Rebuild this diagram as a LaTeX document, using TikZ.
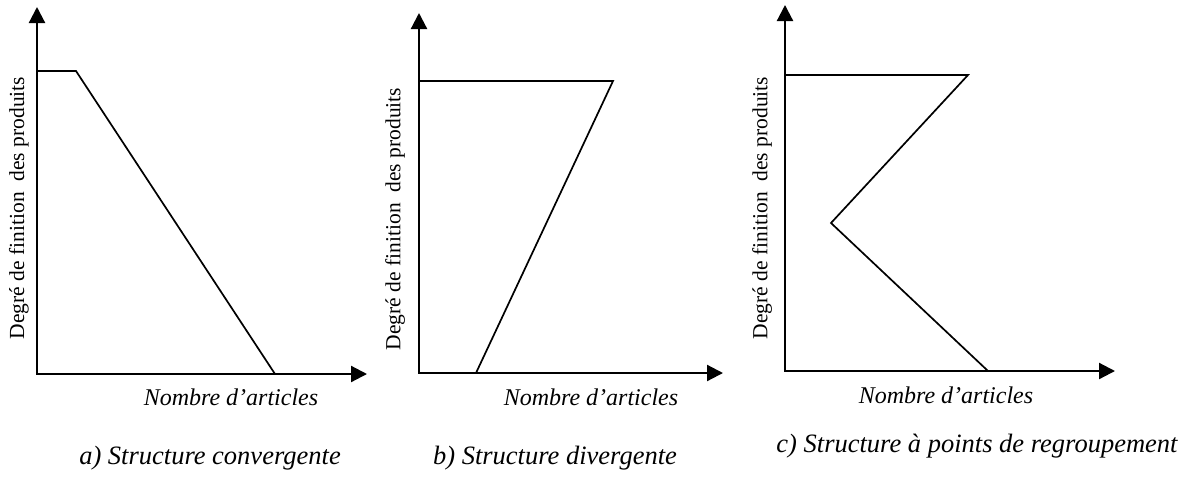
\documentclass[tikz,border=0pt]{standalone}
\usepackage{fontspec}
\setmainfont{Liberation Serif}
\usetikzlibrary{arrows.meta}

\begin{document}
\begin{tikzpicture}[x=1pt, y=-1pt,
		axes/.style={line width=2.2pt, {Triangle[length=16pt, width=16pt]}-{Triangle[length=16pt, width=16pt]}},
		courbe/.style={line width=1.7pt},
		etiq/.style={font=\fontsize{24}{28}\selectfont\itshape},
		titre/.style={font=\fontsize{26.5}{30}\selectfont\itshape},
		degre/.style={rotate=90, font=\fontsize{21.5}{25}\selectfont}]
		\useasboundingbox (0,0) rectangle (1193,493);

		% a) structure convergente
		\coordinate (A0) at (37,374);
		\coordinate (AY) at (37,7);
		\coordinate (AX) at (367,374);
		\coordinate (A1) at (37,71);
		\coordinate (A2) at (76,71);
		\coordinate (A3) at (275,374);

		\draw[axes] (AY) -- (A0) -- (AX);
		\draw[courbe] (A1) -- (A2) -- (A3);

		\node[degre] (Adeg) at (19,208) {Degré de finition\ \ des produits};
		\node[etiq] (Anb) at (231,397) {Nombre d’articles};
		\node[titre] (Atitre) at (210,458) {a) Structure convergente};

		% b) structure divergente
		\coordinate (B0) at (419,373);
		\coordinate (BY) at (419,13);
		\coordinate (BX) at (723,373);
		\coordinate (B1) at (419,81);
		\coordinate (B2) at (613,81);
		\coordinate (B3) at (476,373);

		\draw[axes] (BY) -- (B0) -- (BX);
		\draw[courbe] (B1) -- (B2) -- (B3);

		\node[degre] (Bdeg) at (395,219) {Degré de finition\ \ des produits};
		\node[etiq] (Bnb) at (591,397) {Nombre d’articles};
		\node[titre] (Btitre) at (555,458) {b) Structure divergente};

		% c) structure a points de regroupement
		\coordinate (C0) at (785,371);
		\coordinate (CY) at (785,5);
		\coordinate (CX) at (1115,371);
		\coordinate (C1) at (785,75);
		\coordinate (C2) at (968,75);
		\coordinate (C3) at (831,223);
		\coordinate (C4) at (988,371);

		\draw[axes] (CY) -- (C0) -- (CX);
		\draw[courbe] (C1) -- (C2) -- (C3) -- (C4);

		\node[degre] (Cdeg) at (762,208) {Degré de finition\ \ des produits};
		\node[etiq] (Cnb) at (946,395) {Nombre d’articles};
		\node[titre] (Ctitre) at (977,446) {c) Structure à points de regroupement};
	\end{tikzpicture}
\end{document}
